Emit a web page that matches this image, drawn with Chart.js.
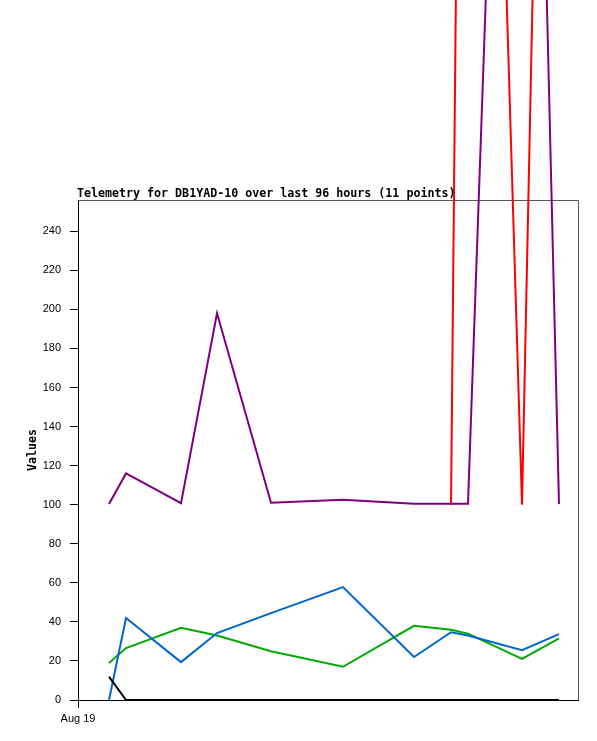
<!DOCTYPE html>
<html><head><meta charset="utf-8">
<script src="https://cdn.jsdelivr.net/npm/chart.js@4/dist/chart.umd.min.js"></script>
<style>html,body{margin:0;padding:0;background:#fff;}canvas{display:block;}</style>
</head><body>
<canvas id="c" width="597" height="741"></canvas>
<script>
const titleText = 'Telemetry for DB1YAD-10 over last 96 hours (11 points)';
const yAxisTitle = 'Values';
// hours since axis start (axis spans 96 h)
const hours  = [5.95, 9.22, 19.78, 26.69, 37.06, 50.88, 64.51, 71.62, 74.88, 85.25, 92.35];
const black  = [12, 0, 0, 0, 0, 0, 0, 0, 0, 0, 0];
const blue   = [0, 42, 19.4, 34.3, 44.5, 57.8, 22, 34.7, 33, 25.5, 33.7];
const green  = [19, 26.6, 37, 33, 25, 17, 38, 36, 34, 21, 31.6];
const purple = [100.3, 116, 100.8, 198, 101, 102.5, 100.5, 100.5, 100.5, 885, 100.3];
const red    = [null, null, null, null, null, null, null, 100, 1010, 100, 1008];
const yTicks = [0, 20, 40, 60, 80, 100, 120, 140, 160, 180, 200, 220, 240];
const xTickHours = [0];
const xTickLabels = ['Aug 19'];

const pts = arr => arr.map((v, i) => ({x: hours[i], y: v}));
const mk = (data, color) => ({data: pts(data), borderColor: color, borderWidth: 2, pointRadius: 0,
  tension: 0, fill: false, clip: false, spanGaps: false});

const tickFont = {family: '"Liberation Sans", Arial, sans-serif', size: 11};

const framePlugin = {
  id: 'frame',
  beforeDatasetsDraw(chart) {
    const {ctx, chartArea: a} = chart;
    ctx.save();
    ctx.strokeStyle = '#555';
    ctx.lineWidth = 1;
    ctx.beginPath();
    ctx.moveTo(a.left, a.top + 0.5); ctx.lineTo(a.right + 0.5, a.top + 0.5);
    ctx.lineTo(a.right + 0.5, a.bottom);
    ctx.stroke();
    ctx.restore();
  },
  afterDraw(chart) {
    const {ctx, chartArea: a} = chart;
    ctx.save();
    ctx.fillStyle = '#000';
    ctx.font = 'bold 11.65px "DejaVu Sans Mono", monospace';
    ctx.textAlign = 'left';
    ctx.textBaseline = 'alphabetic';
    ctx.fillText(titleText, a.left - 1, a.top - 3.5);
    ctx.translate(36, (a.top + a.bottom) / 2);
    ctx.rotate(-Math.PI / 2);
    ctx.textAlign = 'center';
    ctx.fillText(yAxisTitle, 0, 0);
    ctx.restore();
  }
};

new Chart(document.getElementById('c'), {
  type: 'line',
  data: {datasets: [mk(black, '#000000'), mk(blue, '#0066cc'), mk(green, '#00aa00'),
                    mk(purple, '#7f007f'), mk(red, '#ff0000')]},
  options: {
    responsive: false, devicePixelRatio: 1, animation: false,
    layout: {padding: {top: 200, right: 19, left: 0, bottom: 0}},
    plugins: {legend: {display: false}, tooltip: {enabled: false}, title: {display: false}},
    scales: {
      x: {
        type: 'linear', min: 0, max: 96,
        afterBuildTicks: s => { s.ticks = xTickHours.map(v => ({value: v})); },
        afterFit: s => { s.height = 41; },
        ticks: {callback: (v, i) => xTickLabels[i], font: tickFont, color: '#000', padding: 4,
                maxRotation: 0, autoSkip: false},
        grid: {drawOnChartArea: false, drawTicks: true, tickLength: 8, color: '#000'},
        border: {color: '#000', width: 1}
      },
      y: {
        min: 0, max: 256,
        afterBuildTicks: s => { s.ticks = yTicks.map(v => ({value: v})); },
        afterFit: s => { s.width = 78; },
        ticks: {font: tickFont, color: '#000', padding: 9},
        grid: {drawOnChartArea: false, drawTicks: true, tickLength: 8, color: '#000'},
        border: {color: '#000', width: 1}
      }
    }
  },
  plugins: [framePlugin]
});
</script>
</body></html>
